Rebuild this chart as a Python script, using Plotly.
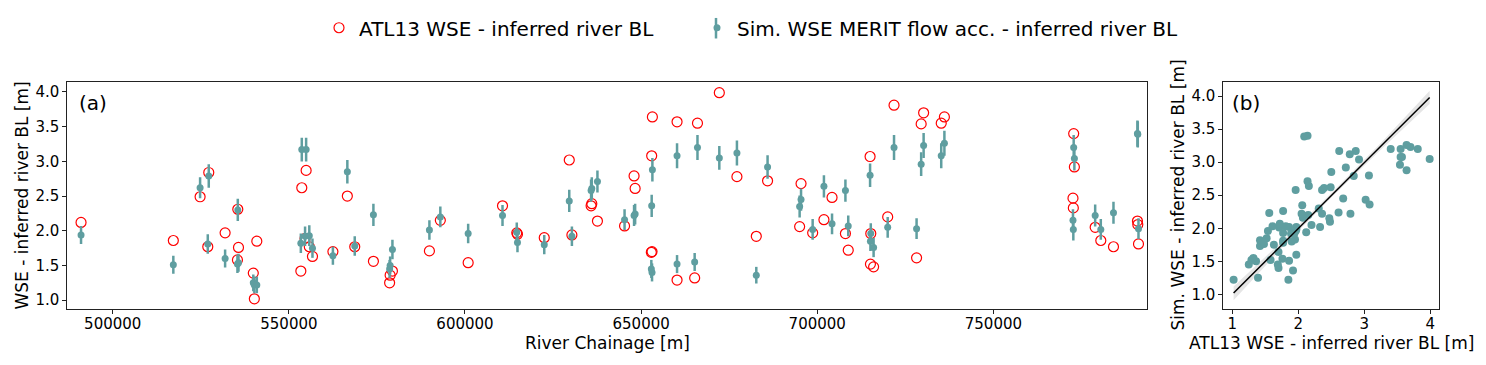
import plotly.graph_objects as go

# Panel (a): chainage along the river, ATL13 WSE and simulated WSE above the inferred bed level
chainage = [491000, 517200, 524800, 526980, 527260, 531900, 535500, 535700, 535400, 539900,
            540200, 540900, 553670, 554900, 553400, 554600, 555800, 556700, 562500, 566600,
            568700, 574000, 579400, 578750, 578600, 589900, 593000, 600900, 610650, 614700,
            614900, 622500, 629600, 630350, 636000, 635800, 637600, 645300, 648000, 648300,
            653200, 653000, 653100, 652900, 660200, 660200, 666000, 665200, 672200, 677200,
            682700, 685900, 695400, 695000, 698700, 701900, 704200, 708000, 708800, 715000,
            715200, 715100, 716000, 720000, 721800, 728200, 729500, 730200, 735200, 736100,
            772800, 773000, 772600, 772700, 778900, 780500, 784100, 790900, 791000, 791200]

atl13 = [2.12, 1.86, 2.49, 1.77, 2.84, 1.97, 2.31, 1.76, 1.58, 1.39,
         1.02, 1.85, 2.62, 2.87, 1.42, 1.89, 1.77, 1.63, 1.70, 2.50,
         1.77, 1.56, 1.42, 1.36, 1.25, 1.71, 2.15, 1.54, 2.36, 1.97,
         1.95, 1.90, 3.02, 1.94, 2.39, 2.36, 2.14, 2.07, 2.79, 2.61,
         3.64, 3.08, 1.70, 1.69, 3.57, 1.29, 3.55, 1.32, 3.99, 2.78,
         1.92, 2.72, 2.68, 2.06, 1.97, 2.16, 2.48, 1.96, 1.72, 3.07,
         1.96, 1.52, 1.48, 2.20, 3.81, 1.61, 3.54, 3.70, 3.55, 3.64,
         3.40, 2.92, 2.47, 2.33, 2.05, 1.86, 1.77, 2.14, 2.09, 1.81]

sim_merit = [1.94, 1.51, 2.62, 1.81, 2.79, 1.60, 2.30, 1.54, 1.52, 1.25,
             1.22, 1.22, 3.17, 3.17, 1.82, 1.92, 1.93, 1.75, 1.64, 2.85,
             1.78, 2.23, 1.73, 1.50, 1.45, 2.01, 2.20, 1.96, 2.22, 1.98,
             1.83, 1.80, 2.43, 1.92, 2.61, 2.58, 2.71, 2.16, 2.22, 2.24,
             2.88, 2.36, 1.40, 1.45, 3.08, 1.52, 3.20, 1.55, 3.05, 3.12,
             1.36, 2.92, 2.45, 2.35, 2.02, 2.64, 2.10, 2.58, 2.07, 2.80,
             1.96, 1.85, 1.76, 2.05, 3.20, 2.03, 2.96, 3.23, 3.08, 3.26,
             3.20, 3.04, 2.15, 2.02, 2.22, 2.02, 2.26, 3.40, 3.39, 2.03]

sim_err = [0.13, 0.13, 0.15, 0.14, 0.17, 0.13, 0.16, 0.13, 0.13, 0.12,
           0.12, 0.12, 0.17, 0.17, 0.14, 0.14, 0.15, 0.14, 0.13, 0.17,
           0.14, 0.16, 0.14, 0.13, 0.13, 0.14, 0.15, 0.14, 0.15, 0.14,
           0.14, 0.14, 0.16, 0.14, 0.16, 0.16, 0.16, 0.15, 0.15, 0.15,
           0.17, 0.16, 0.13, 0.13, 0.18, 0.13, 0.18, 0.13, 0.17, 0.18,
           0.12, 0.17, 0.16, 0.16, 0.15, 0.16, 0.15, 0.16, 0.15, 0.17,
           0.15, 0.14, 0.14, 0.15, 0.18, 0.15, 0.17, 0.18, 0.18, 0.18,
           0.18, 0.17, 0.16, 0.16, 0.16, 0.15, 0.16, 0.19, 0.19, 0.15]

# Panel (b): fitted line and its confidence band
fit_x = [1.02, 1.75, 2.5, 3.25, 3.99]
fit_y = [1.02, 1.75, 2.5, 3.24, 3.98]
band_lo = [0.91, 1.70, 2.465, 3.19, 3.88]
band_hi = [1.12, 1.80, 2.535, 3.29, 4.08]

teal = "#5F9EA0"
font = "DejaVu Sans"

# the page body has an 8px margin, so the figure is 8px smaller than the window
# and page positions are converted to paper fractions with that offset
W, H = 1478, 357
def px(X):
    return (X - 8) / W
def py(Y):
    return 1 - (Y - 8) / H

fig = go.Figure()

fig.add_trace(go.Scatter(
    x=chainage, y=atl13, mode="markers", name="ATL13 WSE - inferred river BL",
    marker=dict(symbol="circle-open", size=10, color="red", line=dict(width=1.2)),
    xaxis="x", yaxis="y", legend="legend"))

fig.add_trace(go.Scatter(
    x=chainage, y=sim_merit, mode="markers", name="Sim. WSE MERIT flow acc. - inferred river BL",
    marker=dict(size=7, color=teal),
    error_y=dict(type="data", array=sim_err, color=teal, thickness=2.5, width=0),
    xaxis="x", yaxis="y", legend="legend2"))

fig.add_trace(go.Scatter(
    x=fit_x + fit_x[::-1], y=band_hi + band_lo[::-1], fill="toself",
    fillcolor="rgba(0,0,0,0.1)", line=dict(width=0), mode="lines",
    showlegend=False, hoverinfo="skip", xaxis="x2", yaxis="y2"))

fig.add_trace(go.Scatter(
    x=atl13, y=sim_merit, mode="markers", marker=dict(size=8, color=teal),
    showlegend=False, xaxis="x2", yaxis="y2"))

fig.add_trace(go.Scatter(
    x=fit_x, y=fit_y, mode="lines", line=dict(color="black", width=1.5),
    showlegend=False, xaxis="x2", yaxis="y2"))

axis_common = dict(showline=True, mirror=True, linecolor="#222", linewidth=1,
                   ticks="outside", ticklen=4, tickcolor="#222", showgrid=False,
                   zeroline=False, tickfont=dict(size=15, color="black"))

legend_common = dict(orientation="h", xanchor="left", y=py(20), yanchor="middle",
                     font=dict(size=20), bgcolor="rgba(0,0,0,0)")

fig.update_layout(
    width=W, height=H, margin=dict(l=0, r=0, t=0, b=0),
    paper_bgcolor="white", plot_bgcolor="white",
    font=dict(family=font, color="black"),
    xaxis=dict(domain=[px(67.3), px(1147.3)], range=[487100, 793700],
               tickvals=[500000, 550000, 600000, 650000, 700000, 750000],
               ticktext=["500000", "550000", "600000", "650000", "700000", "750000"],
               ticklabelstandoff=-3, anchor="y", **axis_common),
    yaxis=dict(domain=[py(307.7), py(75.5)], range=[0.873, 4.144],
               tickvals=[1.0, 1.5, 2.0, 2.5, 3.0, 3.5, 4.0], tickformat=".1f",
               anchor="x", **axis_common),
    xaxis2=dict(domain=[px(1223.3), px(1439.3)], range=[0.864, 4.136],
                tickvals=[1, 2, 3, 4], ticklabelstandoff=-3, anchor="y2", **axis_common),
    yaxis2=dict(domain=[py(307.7), py(76)], range=[0.778, 4.207],
                tickvals=[1.0, 1.5, 2.0, 2.5, 3.0, 3.5, 4.0], tickformat=".1f",
                anchor="x2", **axis_common),
    legend=dict(x=px(319), **legend_common),
    legend2=dict(x=px(697), **legend_common),
    showlegend=True,
)

# vertical error bar drawn through the legend symbol of the simulated series
fig.add_shape(type="line", xref="paper", yref="paper", x0=px(716), x1=px(716),
              y0=py(10), y1=py(31), line=dict(color=teal, width=2.5))

annotations = [
    dict(text="(a)", x=px(77), y=py(97), xanchor="left", yanchor="middle", font=dict(size=20)),
    dict(text="(b)", x=px(1230), y=py(97), xanchor="left", yanchor="middle", font=dict(size=20)),
    dict(text="River Chainage [m]", x=px(607), y=py(342), xanchor="center", yanchor="middle",
         font=dict(size=17)),
    dict(text="ATL13 WSE - inferred river BL [m]", x=px(1331), y=py(342), xanchor="center",
         yanchor="middle", font=dict(size=17)),
    dict(text="WSE - inferred river BL [m]", x=px(22), y=py(191.6), textangle=-90,
         xanchor="center", yanchor="middle", font=dict(size=17)),
    dict(text="Sim. WSE - inferred river BL [m]", x=px(1178), y=py(191.6), textangle=-90,
         xanchor="center", yanchor="middle", font=dict(size=17)),
]
for a in annotations:
    a.update(xref="paper", yref="paper", showarrow=False)
fig.update_layout(annotations=annotations)

fig.write_html("out.html")
